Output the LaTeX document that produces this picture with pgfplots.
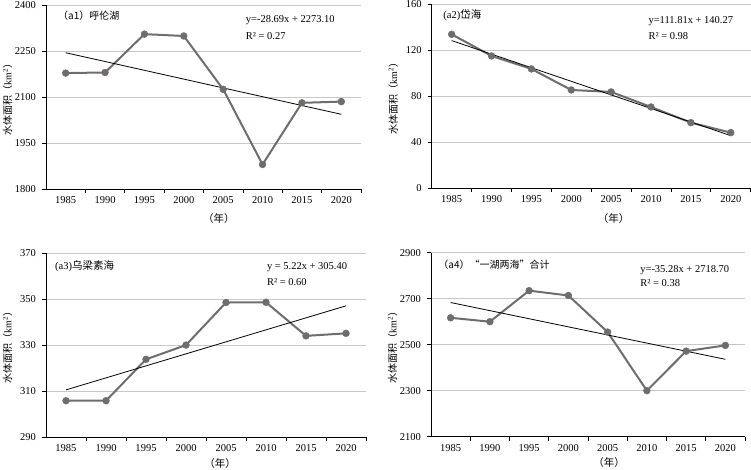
\documentclass[border=0pt]{standalone}
\usepackage{fontspec}
\setmainfont{Liberation Serif}
\newfontfamily\cjk{Noto Sans CJK SC}
\usepackage{pgfplots}
\pgfplotsset{compat=1.18}

\definecolor{linegray}{RGB}{112,108,108}
\definecolor{gridgray}{RGB}{200,200,200}

\tikzset{ann/.style={anchor=west, font=\fontsize{10.5}{12}\selectfont, inner sep=0pt}}

\pgfplotsset{
  panel/.style={
    scale only axis, anchor=south west, height=184pt,
    xmin=0.5, xmax=8.5,
    xtick={1,...,8},
    xticklabels={1985,1990,1995,2000,2005,2010,2015,2020},
    minor xtick={1.5,2.5,...,8.5},
    axis x line=bottom, axis y line=left,
    axis line style={-, black, line width=0.8pt},
    tick align=outside,
    major tick length=4pt, minor tick length=4pt,
    major x tick style={draw=none},
    tick style={black, line width=0.7pt},
    ymajorgrids, grid style={gridgray, line width=0.8pt},
    /pgf/number format/1000 sep={},
    /pgf/number format/assume math mode=true,
    tick label style={font=\fontsize{10.5}{12}\selectfont},
    yticklabel style={xshift=-2.5pt},
    label style={font=\fontsize{10.5}{12}\selectfont},
    ylabel={{\cjk 水体面积（}km\textsuperscript{2}{\cjk ）}},
    every axis y label/.style={at={(axis description cs:0,0.5)}, xshift=-38.5pt, rotate=90, anchor=center},
    xlabel={{\cjk （年）}},
    clip=false,
  },
  data/.style={color=linegray, line width=2pt, mark=*, mark size=3.4pt, mark options={fill=linegray, draw=linegray, line width=0.5pt}},
  trend/.style={black, line width=0.8pt, no marks},
}

\begin{document}
\begin{tikzpicture}[x=1pt,y=1pt]
\useasboundingbox (0,0) rectangle (751,469);

% (a1) Hulun Lake
\begin{axis}[panel, at={(46pt,280pt)}, width=315pt,
  ymin=1800, ymax=2400, ytick={1800,1950,2100,2250,2400},
  xlabel style={at={(axis description cs:0.549,0)}, yshift=-30pt, anchor=center}]
  \addplot[data] coordinates {(1,2178)(2,2180)(3,2305)(4,2299)(5,2125)(6,1880)(7,2081)(8,2085)};
  \addplot[trend] coordinates {(1,2244.41)(8,2043.58)};
  \node[ann, font=\cjk\fontsize{10}{12}\selectfont] at (rel axis cs:0.038,0.94) {（a1）呼伦湖};
  \node[ann] at (rel axis cs:0.634,0.918) {y=-28.69x + 2273.10};
  \node[ann] at (rel axis cs:0.634,0.833) {R² = 0.27};
\end{axis}

% (a2) Daihai
\begin{axis}[panel, at={(431.7pt,280.7pt)}, width=319pt,
  ymin=0, ymax=160, ytick={0,40,80,120,160},
  xlabel style={at={(axis description cs:0.57,0)}, yshift=-30pt, anchor=center}]
  \addplot[data] coordinates {(1,133.9)(2,115.1)(3,103.8)(4,85.5)(5,83.8)(6,70.7)(7,57.1)(8,48.4)};
  \addplot[trend] coordinates {(1,128.46)(8,45.79)};
  \node[ann] at (rel axis cs:0.036,0.942) {(a2){\cjk 岱海}};
  \node[ann] at (rel axis cs:0.679,0.911) {y=111.81x + 140.27};
  \node[ann] at (rel axis cs:0.679,0.829) {R² = 0.98};
\end{axis}

% (a3) Ulansuhai
\begin{axis}[panel, at={(46pt,31.7pt)}, width=320pt,
  ymin=290, ymax=370, ytick={290,310,330,350,370},
  xlabel style={at={(axis description cs:0.544,0)}, yshift=-26pt, anchor=center}]
  \addplot[data] coordinates {(1,305.9)(2,305.9)(3,323.9)(4,330.1)(5,348.6)(6,348.7)(7,334.1)(8,335.2)};
  \addplot[trend] coordinates {(1,310.62)(8,347.16)};
  \node[ann] at (rel axis cs:0.028,0.931) {(a3){\cjk 乌梁素海}};
  \node[ann] at (rel axis cs:0.69,0.924) {y = 5.22x + 305.40};
  \node[ann] at (rel axis cs:0.69,0.842) {R² = 0.60};
\end{axis}

% (a4) total
\begin{axis}[panel, at={(431pt,32.3pt)}, width=314pt,
  ymin=2100, ymax=2900, ytick={2100,2300,2500,2700,2900},
  xlabel style={at={(axis description cs:0.567,0)}, yshift=-26pt, anchor=center}]
  \addplot[data] coordinates {(1,2617)(2,2600)(3,2735)(4,2714)(5,2555)(6,2300)(7,2472)(8,2497)};
  \addplot[trend] coordinates {(1,2683.42)(8,2436.46)};
  \node[ann, font=\cjk\fontsize{10}{12}\selectfont] at (rel axis cs:0.023,0.933) {（a4）“一湖两海”合计};
  \node[ann] at (rel axis cs:0.666,0.906) {y=-35.28x + 2718.70};
  \node[ann] at (rel axis cs:0.666,0.834) {R² = 0.38};
\end{axis}
\end{tikzpicture}
\end{document}
